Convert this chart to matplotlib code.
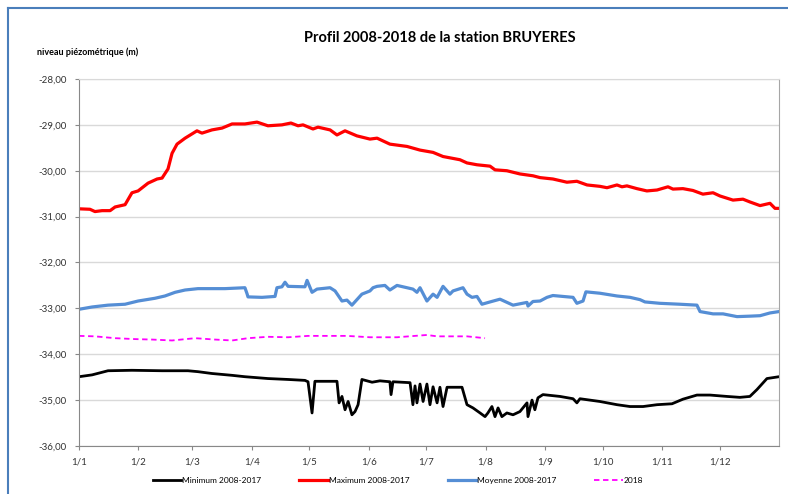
"""Profil piezometrique 2008-2018 de la station BRUYERES."""
import matplotlib
matplotlib.use('Agg')
import matplotlib.pyplot as plt
from matplotlib.lines import Line2D

FONT = ['Lato', 'DejaVu Sans']

# jour de l'annee (0 = 1er janvier)
month_days = [0, 31, 59, 90, 120, 151, 181, 212, 243, 273, 304, 334]
month_labels = ['1/1', '1/2', '1/3', '1/4', '1/5', '1/6',
                '1/7', '1/8', '1/9', '1/10', '1/11', '1/12']
y_ticks = [-36, -35, -34, -33, -32, -31, -30, -29, -28]

max_days = [0, 5.7, 8.3, 12, 16.2, 18.8, 24, 27.6, 30.8, 36,
            40.7, 43.3, 46.4, 48.5, 51.1, 55.3, 61.5, 64.1, 69.3, 74.6,
            79.8, 86.5, 92.8, 98.5, 105.8, 110.5, 114.2, 116.8, 122, 124.6,
            130.9, 134.5, 138.7, 144.9, 151.7, 155.4, 162.1, 171, 177.8, 184.6,
            189.8, 198.6, 202.3, 207.5, 214.3, 216.9, 223.1, 229.9, 236.7, 240.4,
            247.1, 254.4, 259.6, 264.9, 271.6, 275.3, 280.5, 283.1, 285.7, 290.9,
            296.1, 301.4, 307.1, 309.7, 314.9, 320.1, 325.3, 330.6, 334.2, 341,
            346.2, 349.8, 355.1, 360.3, 362.9, 365]
max_vals = [-30.83, -30.84, -30.89, -30.87, -30.87, -30.79, -30.74, -30.48, -30.44, -30.27,
            -30.18, -30.16, -29.96, -29.62, -29.42, -29.29, -29.13, -29.18, -29.11, -29.07,
            -28.98, -28.98, -28.94, -29.02, -29.00, -28.96, -29.02, -29.00, -29.09, -29.05,
            -29.11, -29.22, -29.13, -29.24, -29.31, -29.29, -29.42, -29.47, -29.55, -29.60,
            -29.69, -29.76, -29.83, -29.87, -29.90, -29.98, -30.00, -30.07, -30.11, -30.15,
            -30.18, -30.25, -30.23, -30.31, -30.34, -30.37, -30.31, -30.35, -30.33, -30.39,
            -30.44, -30.42, -30.35, -30.40, -30.39, -30.43, -30.51, -30.48, -30.55, -30.64,
            -30.62, -30.68, -30.76, -30.71, -30.82, -30.82]

mean_days = [0, 6.8, 15.1, 24, 30.8, 39.6, 44.8, 50.1, 55.3, 62,
             76.1, 86.5, 87.6, 88.1, 95.4, 102.2, 103.2, 105.8, 107.4, 109,
             117.8, 118.9, 121.5, 124.1, 130.9, 133.5, 137.1, 139.7, 142.3, 147.5,
             151.7, 153.3, 155.4, 159.5, 162.1, 165.8, 171, 174.1, 176.2, 177.8,
             181.4, 184.6, 186.7, 189.8, 193.4, 195, 200.2, 202.3, 204.9, 207.5,
             210.1, 214.3, 219.5, 226.3, 233.6, 234.1, 236.7, 240.4, 244, 247.1,
             252.3, 257.6, 259.6, 262.8, 264.3, 271.6, 280.5, 287.3, 292.5, 295.1,
             302.9, 313.3, 322.2, 323.8, 330.6, 335.8, 343.1, 349.8, 355.1, 360.3, 365]
mean_vals = [-33.02, -32.97, -32.93, -32.91, -32.84, -32.78, -32.73, -32.65, -32.60, -32.57,
             -32.57, -32.55, -32.68, -32.75, -32.76, -32.74, -32.55, -32.53, -32.43, -32.52,
             -32.53, -32.39, -32.65, -32.58, -32.55, -32.62, -32.84, -32.82, -32.93, -32.69,
             -32.62, -32.55, -32.52, -32.50, -32.60, -32.50, -32.55, -32.58, -32.65, -32.55,
             -32.84, -32.69, -32.76, -32.52, -32.69, -32.62, -32.55, -32.69, -32.76, -32.74,
             -32.91, -32.86, -32.80, -32.93, -32.87, -32.95, -32.85, -32.84, -32.76, -32.72,
             -32.74, -32.76, -32.89, -32.84, -32.64, -32.67, -32.73, -32.76, -32.81, -32.86,
             -32.89, -32.91, -32.93, -33.07, -33.12, -33.12, -33.18, -33.17, -33.16, -33.10, -33.07]

min_days = [0, 6.8, 15.1, 27.6, 43.3, 56.8, 62, 69.3, 79.8, 86.5,
            98.5, 109, 117.8, 119.4, 121.5, 123, 134.5, 135.6, 137.1, 138.7,
            140.3, 142.3, 143.9, 145.5, 147.5, 152.8, 156.9, 162.1, 162.7, 163.7,
            172.6, 174.1, 175.2, 176.2, 177.8, 179.4, 181.4, 183, 184.6, 186.7,
            188.2, 189.8, 191.9, 199.7, 202.3, 205.4, 209.1, 211.7, 213.2, 215.3,
            216.9, 218.5, 220.5, 223.1, 226.3, 229.9, 233.6, 234.1, 236.2, 237.7,
            239.3, 241.9, 250.8, 257.6, 259.6, 261.2, 271.6, 280.5, 287.3, 294.1,
            301.4, 309.2, 314.9, 322.2, 329, 337.9, 344.6, 349.8, 353.5, 358.7, 365]
min_vals = [-34.49, -34.45, -34.36, -34.35, -34.36, -34.36, -34.38, -34.42, -34.46, -34.49,
            -34.53, -34.55, -34.57, -34.60, -35.28, -34.59, -34.59, -35.06, -34.92, -35.21,
            -35.03, -35.32, -35.25, -35.10, -34.55, -34.61, -34.58, -34.60, -34.88, -34.60,
            -34.62, -35.10, -34.69, -35.06, -34.65, -35.03, -34.65, -35.10, -34.71, -35.06,
            -34.72, -35.14, -34.72, -34.72, -35.10, -35.17, -35.28, -35.36, -35.28, -35.14,
            -35.36, -35.17, -35.36, -35.28, -35.32, -35.25, -35.06, -35.36, -35.00, -35.21,
            -34.95, -34.88, -34.92, -34.97, -35.06, -34.97, -35.03, -35.10, -35.14, -35.14,
            -35.10, -35.08, -34.98, -34.89, -34.89, -34.92, -34.94, -34.92, -34.77, -34.53, -34.49]

y2018_days = [0, 8.3, 18.8, 29.2, 38.1, 48.5, 60.5, 70.9, 79.8, 88.1,
              98.5, 109, 119.4, 139.7, 151.7, 165.8, 181.4, 186.7, 202.3, 211.7]
y2018_vals = [-33.60, -33.61, -33.65, -33.67, -33.68, -33.70, -33.65, -33.68, -33.70, -33.65,
              -33.62, -33.63, -33.60, -33.60, -33.63, -33.63, -33.58, -33.61, -33.61, -33.65]


def fmt_fr(v):
    return f"{v:.2f}".replace(".", ",")


def main():
    plt.rcParams['font.family'] = FONT
    fig = plt.figure(figsize=(7.88, 4.94), dpi=100)
    ax = fig.add_axes([0.1003, 0.0972, 0.8883, 0.7429])

    ax.plot(min_days, min_vals, color='black', lw=2.0, label='Minimum 2008-2017')
    ax.plot(max_days, max_vals, color='#ff0000', lw=2.3, label='Maximum 2008-2017')
    ax.plot(mean_days, mean_vals, color='#558ed5', lw=2.3, label='Moyenne 2008-2017')
    ax.plot(y2018_days, y2018_vals, color='#ff00ff', lw=1.3, ls=(0, (3, 2)), label='2018')

    ax.set_xlim(0, 365)
    ax.set_ylim(-36, -28)
    ax.set_yticks(y_ticks)
    ax.set_yticklabels([fmt_fr(v) for v in y_ticks])
    ax.set_xticks(month_days)
    ax.set_xticklabels(month_labels)
    ax.tick_params(axis='both', labelsize=7, length=3, color='#888888',
                   labelcolor='#333333')
    ax.tick_params(axis='y', pad=6)
    ax.tick_params(axis='x', pad=5)

    ax.grid(axis='y', color='#d9d9d9', lw=1.0)
    ax.set_axisbelow(True)
    ax.spines['left'].set_color('#888888')
    ax.spines['bottom'].set_color('#888888')
    ax.spines['right'].set_color('#a6a6a6')
    ax.spines['top'].set_color('#d9d9d9')

    fig.text(0.558, 0.923, 'Profil 2008-2018 de la station BRUYERES',
             ha='center', va='center', fontsize=10.5, fontweight='bold')
    fig.text(0.047, 0.894, 'niveau piézométrique (m)',
             ha='left', va='center', fontsize=6.5, fontweight='bold')

    fig.legend(loc='center', bbox_to_anchor=(0.505, 0.028), ncol=4,
               frameon=False, fontsize=6, handlelength=3.4,
               handletextpad=0.1, columnspacing=4.6)

    # cadre bleu (haut et gauche)
    fig.add_artist(Line2D([0.0102, 1.0], [0.984, 0.984], color='#4a7ebb', lw=1.5))
    fig.add_artist(Line2D([0.0102, 0.0102], [0.0, 0.984], color='#4a7ebb', lw=1.5))

    fig.savefig('out.png', dpi=100)
    plt.close(fig)


if __name__ == "__main__":
    main()
